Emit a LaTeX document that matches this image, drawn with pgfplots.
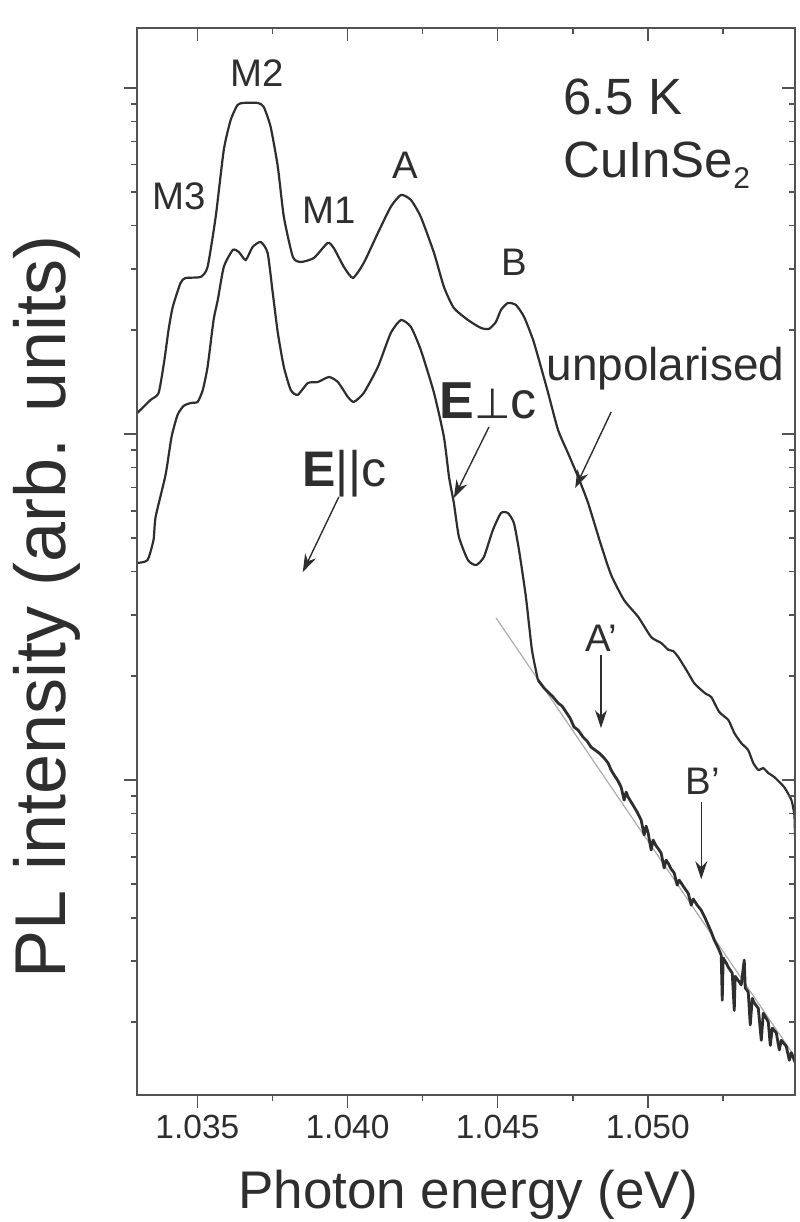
\documentclass[border=0pt]{standalone}
\usepackage{pgfplots}
\pgfplotsset{compat=1.18}
\usepackage{fontspec}
\setmainfont{Liberation Sans}
\newfontfamily\dejavu{DejaVu Sans}
\usetikzlibrary{arrows.meta}
\definecolor{ink}{gray}{0.18}
\definecolor{framec}{gray}{0.32}

\pgfplotstableread{
x y
1.0330 11.50
1.03344 12.54
1.03371 13.14
1.03390 16.30
1.03404 19.98
1.03418 23.28
1.03444 27.32
1.03461 28.24
1.03511 28.43
1.03534 30.39
1.03561 42.39
1.03588 66.20
1.03611 80.83
1.03634 89.32
1.03654 90.50
1.03701 90.50
1.03721 88.13
1.03744 77.15
1.03768 59.10
1.03788 42.39
1.03818 32.48
1.03844 31.41
1.03888 32.26
1.03934 35.65
1.03954 34.48
1.03988 30.39
1.04018 28.24
1.04054 31.20
1.04101 38.09
1.04144 45.31
1.04178 49.07
1.04211 47.46
1.04244 42.39
1.04288 33.35
1.04321 26.60
1.04354 23.13
1.04401 21.35
1.04444 20.25
1.04471 20.12
1.04494 21.07
1.04511 22.83
1.04534 23.91
1.04561 23.59
1.04588 21.78
1.04618 18.69
1.04644 15.62
1.04668 13.14
1.04701 10.27
1.04734 8.81
1.04768 7.51
1.04801 6.32
1.04844 4.78
1.04878 3.91
1.04921 3.31
1.04968 2.96
1.05011 2.59
1.05044 2.49
1.05068 2.38
1.05084 2.36
1.05101 2.27
1.05134 2.04
1.05154 1.907
1.05178 1.820
1.05194 1.773
1.05211 1.738
1.05238 1.572
1.05268 1.491
1.05288 1.367
1.05311 1.279
1.05334 1.221
1.05351 1.120
1.05368 1.069
1.05384 1.083
1.05401 1.048
1.05421 1.020
1.05454 0.954
1.05478 0.875
1.05488 0.792
1.0549 0.684
}\unpol

\pgfplotstableread{
x y
1.0330 4.24
1.03334 4.32
1.03354 4.94
1.03361 5.76
1.03394 7.61
1.03414 9.80
1.03434 11.35
1.03454 12.05
1.03478 12.29
1.03501 12.38
1.03518 13.40
1.03534 15.62
1.03554 21.35
1.03568 24.39
1.03588 30.39
1.03618 34.02
1.03638 33.57
1.03661 31.83
1.03684 34.71
1.03711 35.89
1.03734 33.35
1.03751 25.56
1.03768 19.58
1.03788 15.62
1.03811 13.40
1.03834 12.97
1.03868 14.04
1.03901 14.13
1.03938 14.61
1.03968 14.13
1.04001 12.80
1.04021 12.38
1.04054 13.14
1.04101 15.62
1.04144 19.58
1.04178 21.35
1.04211 20.39
1.04244 17.49
1.04288 13.14
1.04321 9.80
1.04338 7.51
1.04354 6.32
1.04371 5.04
1.04401 4.32
1.04428 4.18
1.04454 4.41
1.04484 5.28
1.04511 5.91
1.04534 5.91
1.04554 5.53
1.04571 4.62
1.04594 3.38
1.04614 2.38
1.04634 1.945
}\perpmain

\pgfplotstableread{
x y
1.046343 1.945
1.046543 1.845
1.046710 1.784
1.046843 1.738
1.047010 1.669
1.047143 1.636
1.047277 1.572
1.047410 1.511
1.047543 1.423
1.047677 1.395
1.047843 1.331
1.047977 1.296
1.048110 1.245
1.048243 1.221
1.048377 1.197
1.048543 1.158
1.048677 1.120
1.048777 1.069
1.048877 1.034
1.049010 0.993
1.049110 0.954
1.049210 0.875
1.049277 0.923
1.049343 0.893
1.049443 0.864
1.049543 0.836
1.049643 0.808
1.049777 0.766
1.049877 0.694
1.049943 0.736
1.050010 0.703
1.050110 0.628
1.050177 0.671
1.050277 0.645
1.050377 0.628
1.050443 0.615
1.050543 0.557
1.050610 0.587
1.050677 0.575
1.050777 0.553
1.050877 0.539
1.050977 0.497
1.051043 0.514
1.051110 0.504
1.051243 0.484
1.051343 0.471
1.051443 0.435
1.051510 0.453
1.051643 0.435
1.051777 0.421
1.051910 0.399
1.052010 0.381
1.052110 0.364
1.052210 0.345
1.052343 0.327
1.052443 0.312
1.052477 0.231
1.052510 0.306
1.052610 0.296
1.052677 0.288
1.052810 0.277
1.052877 0.216
1.052910 0.271
1.053043 0.261
1.053110 0.256
1.053210 0.302
1.053243 0.251
1.053343 0.244
1.053410 0.196
1.053477 0.234
1.053543 0.227
1.053677 0.219
1.053777 0.177
1.053843 0.212
1.053943 0.205
1.054010 0.200
1.054077 0.171
1.054143 0.192
1.054277 0.186
1.054377 0.166
1.054443 0.177
1.054610 0.170
1.054710 0.155
1.054777 0.163
1.0549 0.153
}\perptail

\pgfplotstableread{
x y
1.044947 2.94
1.0549 0.1583
}\fitline

\begin{document}
\begin{tikzpicture}
\begin{axis}[name=ax,
  scale only axis, width=328.85pt, height=533.5pt,
  xmin=1.0330, xmax=1.0549,
  ymode=log, ymin=0.123, ymax=149,
  xtick={1.035,1.040,1.045,1.050},
  minor xtick={1.0375,1.0425,1.0475,1.0525},
  ytick={1,10,100},
  minor ytick={0.2,0.3,0.4,0.5,0.6,0.7,0.8,0.9,2,3,4,5,6,7,8,9,20,30,40,50,60,70,80,90},
  major tick length=6.5pt, minor tick length=3pt,
  axis line style={framec, line width=1pt},
  every tick/.style={framec, line width=0.8pt},
  xtick pos=bottom, ytick pos=left, tick align=outside,
  yticklabels={},
  /pgf/number format/assume math mode=true,
  xticklabel={\pgfmathprintnumber[fixed,fixed zerofill,precision=3]{\tick}},
  xticklabel style={font=\fontsize{16.75}{20}\selectfont, text=ink},
  xlabel={Photon energy (eV)},
  ylabel={PL intensity (arb. units)},
  xlabel style={font=\fontsize{26.5}{30}\selectfont, text=ink, at={(axis description cs:0.503,-0.0937)}, anchor=center},
  ylabel style={font=\fontsize{36}{40}\selectfont, text=ink, at={(axis description cs:-0.137,0.457)}, anchor=center},
]
\addplot[gray!65, line width=0.6pt] table {\fitline};
\addplot[ink, line width=1.1pt, smooth, tension=0.35] table {\unpol};
\addplot[ink, line width=1.1pt, smooth, tension=0.35] table {\perpmain};
\addplot[ink, line width=1.4pt, line join=round] table {\perptail};

\node[text=ink, font=\fontsize{19.2}{22}\selectfont] at (axis cs:1.03438,48.5) {M3};
\node[text=ink, font=\fontsize{19.2}{22}\selectfont] at (axis cs:1.03700,110.5) {M2};
\node[text=ink, font=\fontsize{19.2}{22}\selectfont] at (axis cs:1.03938,44.4) {M1};
\node[text=ink, font=\fontsize{19.2}{22}\selectfont] at (axis cs:1.04191,59.9) {A};
\node[text=ink, font=\fontsize{19.2}{22}\selectfont] at (axis cs:1.04554,31.4) {B};
\node[text=ink, font=\fontsize{25.5}{28}\selectfont, anchor=base west, inner sep=0pt] at (axis cs:1.04717,83.6) {6.5 K};
\node[text=ink, font=\fontsize{25.5}{28}\selectfont, anchor=base west, inner sep=0pt] at (axis cs:1.04717,54.95) {CuInSe\raisebox{-0.4ex}{\fontsize{15}{15}\selectfont 2}};
\node[text=ink, font=\fontsize{23}{26}\selectfont, anchor=base west, inner sep=0pt] at (axis cs:1.04661,14.32) {unpolarised};
\node[text=ink, font=\fontsize{26}{28}\selectfont, anchor=base west, inner sep=0pt] at (axis cs:1.04305,11.12) {{\bfseries E}{\dejavu\fontsize{21}{22}\selectfont ⊥}c};
\node[text=ink, font=\fontsize{25}{28}\selectfont, anchor=base west, inner sep=0pt] at (axis cs:1.03849,7.04) {{\bfseries E}||c};
\node[text=ink, font=\fontsize{19.2}{22}\selectfont] at (axis cs:1.04844,2.57) {A'};
\node[text=ink, font=\fontsize{19.2}{22}\selectfont] at (axis cs:1.05183,0.993) {B'};

\draw[ink, line width=0.7pt, -{Stealth[length=9pt,width=6pt]}] (axis cs:1.04878,11.58) -- (axis cs:1.04758,6.98);
\draw[ink, line width=0.7pt, -{Stealth[length=9pt,width=6pt]}] (axis cs:1.04471,10.48) -- (axis cs:1.04354,6.53);
\draw[ink, line width=0.7pt, -{Stealth[length=9pt,width=6pt]}] (axis cs:1.03971,6.58) -- (axis cs:1.03851,3.99);
\draw[ink, line width=0.7pt, -{Stealth[length=9pt,width=6pt]}] (axis cs:1.04844,2.30) -- (axis cs:1.04844,1.413);
\draw[ink, line width=0.7pt, -{Stealth[length=9pt,width=6pt]}] (axis cs:1.05178,0.864) -- (axis cs:1.05178,0.517);
\end{axis}
\begin{axis}[
  scale only axis, width=328.85pt, height=533.5pt,
  xmin=1.0330, xmax=1.0549,
  ymode=log, ymin=0.123, ymax=149,
  xtick={1.035,1.040,1.045,1.050},
  minor xtick={1.0375,1.0425,1.0475,1.0525},
  ytick={1,10,100},
  minor ytick={0.2,0.3,0.4,0.5,0.6,0.7,0.8,0.9,2,3,4,5,6,7,8,9,20,30,40,50,60,70,80,90},
  major tick length=6.5pt, minor tick length=3pt,
  axis line style={framec, line width=1pt},
  every tick/.style={framec, line width=0.8pt},
  xtick pos=top, ytick pos=right, tick align=inside,
  xticklabels={}, yticklabels={},
]
\addplot[draw=none] table {\fitline};
\end{axis}
\pgfresetboundingbox
\path ([shift={(-68.65pt,-63.5pt)}]ax.south west) rectangle ([shift={(2pt,14pt)}]ax.north east);
\end{tikzpicture}
\end{document}
